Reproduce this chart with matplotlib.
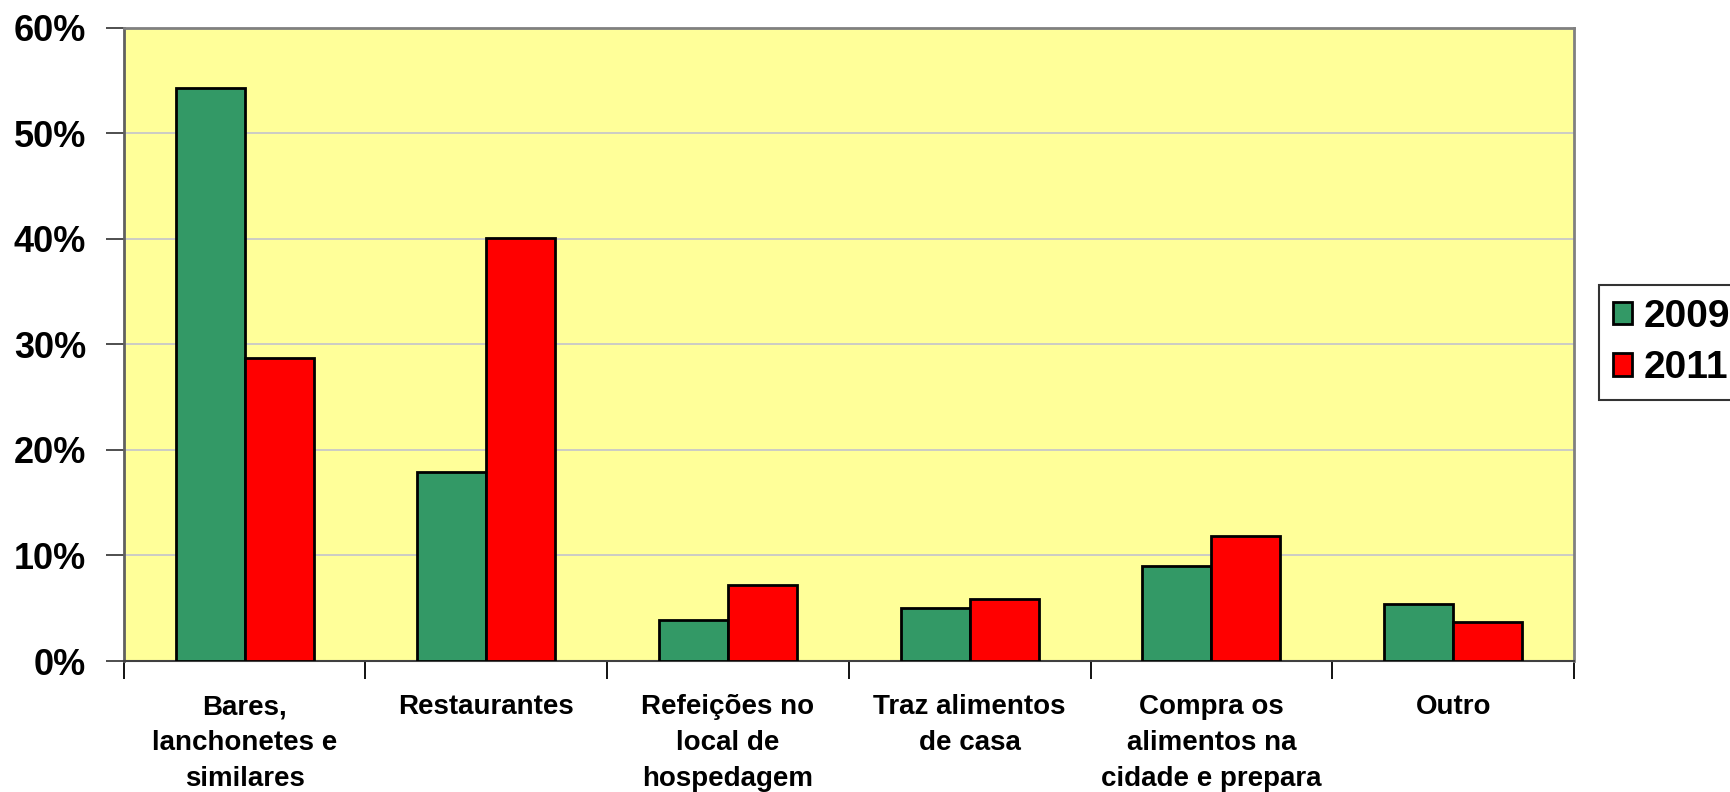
import numpy as np
import matplotlib.pyplot as plt

# --- data ---
categories = ["Bares,\nlanchonetes e\nsimilares", "Restaurantes",
              "Refeições no\nlocal de\nhospedagem", "Traz alimentos\nde casa",
              "Compra os\nalimentos na\ncidade e prepara", "Outro"]
series_names = ["2009", "2011"]
vals_2009 = [54.3, 17.9, 3.9, 5.0, 9.0, 5.4]
vals_2011 = [28.7, 40.1, 7.2, 5.9, 11.8, 3.7]
y_ticks = [0, 10, 20, 30, 40, 50, 60]

plt.rcParams['font.family'] = ['Liberation Sans', 'DejaVu Sans']
plt.rcParams['font.weight'] = 'bold'

fig = plt.figure(figsize=(17.31, 7.92), dpi=100)
ax = fig.add_axes([0.0715, 0.1654, 0.9093 - 0.0715, 0.965 - 0.1654])
ax.set_facecolor('#FFFF99')

x = np.arange(len(categories))
w = 1 / 3.5
ax.bar(x - w / 2, vals_2009, w, color='#339966', edgecolor='black', linewidth=2,
       label=series_names[0], zorder=3)
ax.bar(x + w / 2, vals_2011, w, color='#FF0000', edgecolor='black', linewidth=2,
       label=series_names[1], zorder=3)

ax.set_xlim(-0.5, len(categories) - 0.5)
ax.set_ylim(0, 60)
ax.set_yticks(y_ticks)
ax.set_yticklabels([f"{v}%" for v in y_ticks], fontsize=26, fontweight='bold')
ax.yaxis.grid(True, color='#C8C8C8', linewidth=1.3, zorder=0)
ax.set_axisbelow(True)

ax.set_xticks(x)
ax.set_xticklabels(categories, fontsize=20, fontweight='bold', linespacing=1.48, va='top')
ax.tick_params(axis='x', which='major', length=0, pad=24)
ax.set_xticks(np.arange(-0.5, len(categories)), minor=True)
ax.tick_params(axis='x', which='minor', length=13, width=1.3, color='black')
ax.tick_params(axis='y', length=13, width=1.3, pad=14, color='#404040')

for side in ['top', 'right']:
    ax.spines[side].set_color('#808080')
    ax.spines[side].set_linewidth(2)
ax.spines['left'].set_color('#606060')
ax.spines['left'].set_linewidth(2)
ax.spines['bottom'].set_color('#404040')
ax.spines['bottom'].set_linewidth(1.5)

leg = fig.legend(loc='upper left', bbox_to_anchor=(0.9237, 0.640),
                 prop={'weight': 'bold', 'size': 28}, frameon=True, fancybox=False,
                 edgecolor='black', handlelength=0.5, handleheight=0.5,
                 handletextpad=0.3, labelspacing=0.4, borderpad=0.35,
                 borderaxespad=0)
leg.get_frame().set_linewidth(1.5)

fig.savefig("out.png", dpi=100)
